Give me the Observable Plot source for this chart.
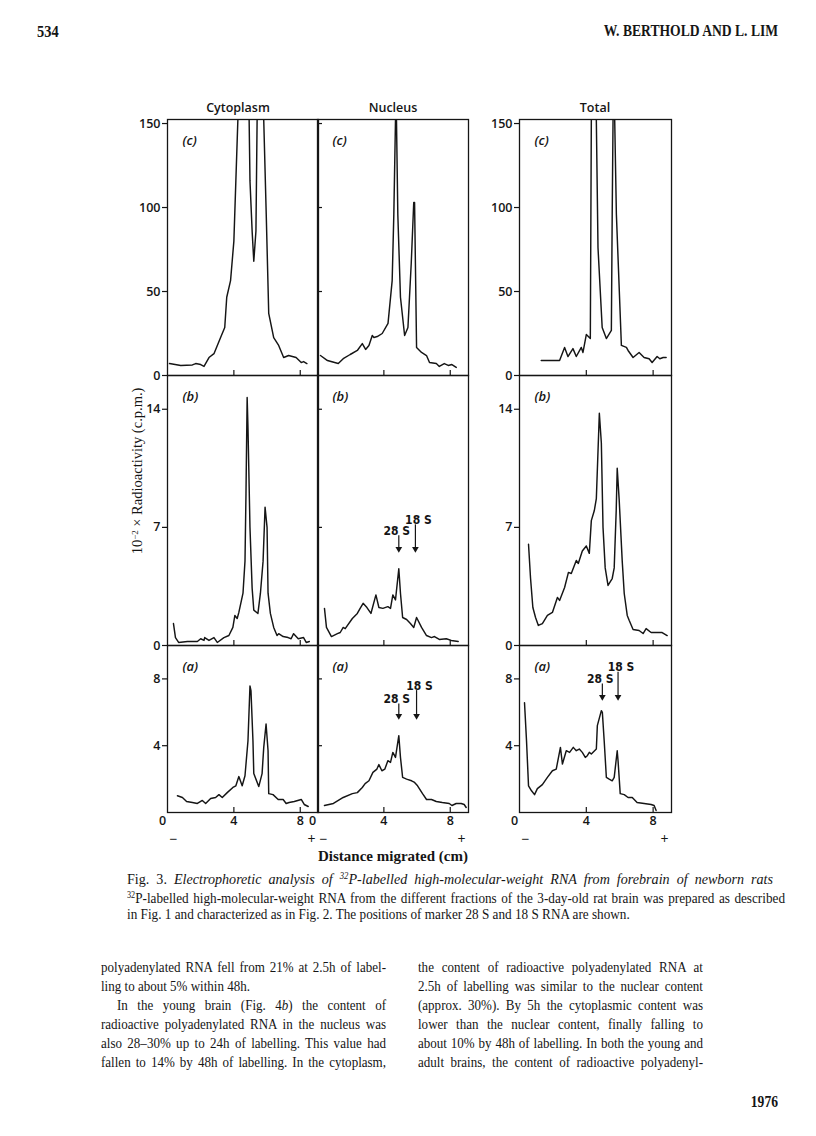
<!DOCTYPE html>
<html><head><meta charset="utf-8">
<script src="https://cdn.jsdelivr.net/npm/d3@7"></script>
<script src="https://cdn.jsdelivr.net/npm/@observablehq/plot@0.6"></script>
<style>
html,body{margin:0;padding:0;background:#fff;}
#page{position:relative;width:816px;height:1136px;overflow:hidden;background:#fff;color:#151515;}
.t{position:absolute;white-space:nowrap;line-height:1;}
.serif{font-family:"Liberation Serif","DejaVu Serif",serif;}
.sans{font-family:"Open Sans","DejaVu Sans",sans-serif;}
.panel{position:absolute;}
.panel svg{overflow:visible;display:block;}
sup{font-size:0.62em;vertical-align:0;position:relative;top:-0.5em;}
</style></head><body><div id="page"></div>
<script>
// ---- Data (distance migrated in cm, 10^-2 x radioactivity in c.p.m.) ----
const xTicks = [4, 8];
const xZeroLabel = [0];
const yTicksC = [0, 50, 100, 150];
const yTicksB = [0, 7, 14];
const yTicksA = [4, 8];
const columns = ["Cytoplasm", "Nucleus", "Total"];
const rowTags = ["(c)", "(b)", "(a)"];

const cytoplasmC = [[0.12,7.1],[0.8,6.0],[1.5,6.3],[1.7,7.1],[2.0,6.5],[2.2,5.4],[2.5,10.7],[2.8,13],[3.2,22.6],[3.45,28.6],[3.57,46.6],[3.8,56.5],[4.0,80],[4.12,116],[4.24,152],[4.55,240],[4.92,152],[4.97,116],[5.1,86],[5.2,68],[5.33,86],[5.4,152],[5.6,220],[5.8,152],[5.95,96],[6.1,37],[6.4,22.6],[6.7,17.9],[7.0,10.7],[7.3,11.9],[7.75,10.7],[8.06,7.7],[8.2,8.3],[8.4,7.1]];
const nucleusC = [[0.18,11.9],[0.6,8.9],[1.25,7.1],[1.55,10],[1.97,12.5],[2.4,14.9],[2.7,19],[2.9,15.5],[3.1,17.9],[3.3,23.8],[3.4,22.6],[3.6,23.2],[3.9,25],[4.25,31],[4.5,56.5],[4.6,96],[4.7,152],[4.76,152],[4.84,96],[5.0,46.6],[5.25,23.8],[5.45,28.6],[5.65,67],[5.8,103],[5.85,103],[5.9,67],[5.97,16.7],[6.27,13.7],[6.57,11.9],[6.75,7.7],[7.16,7.1],[7.34,5.4],[7.64,7.1],[7.88,6],[8.1,6.5],[8.36,4.8]];
const totalC = [[1.3,8.9],[2.4,8.9],[2.7,16.7],[2.9,11.3],[3.2,16],[3.4,11.3],[3.7,16.7],[3.8,13.7],[4.0,24.4],[4.24,22],[4.3,152],[4.45,230],[4.6,152],[4.7,76],[4.95,28.6],[5.2,22],[5.5,26.8],[5.55,96],[5.6,152],[5.65,200],[5.7,152],[5.8,96],[6.1,17.9],[6.4,16.7],[6.5,14.9],[6.8,10.7],[7.16,13.7],[7.46,10.7],[7.76,10],[7.94,7.7],[8.24,11.3],[8.4,10],[8.6,10.7],[8.78,10.7]];

const cytoplasmB = [[0.36,1.3],[0.48,0.47],[0.67,0.18],[1.2,0.24],[1.8,0.24],[2.0,0.4],[2.2,0.3],[2.24,0.47],[2.5,0.3],[2.8,0.47],[3.0,0.18],[3.4,0.47],[3.7,0.59],[3.94,1.07],[4.06,1.78],[4.2,1.6],[4.3,1.96],[4.55,3.1],[4.67,5.0],[4.73,9.0],[4.8,14.7],[4.85,12.9],[4.97,7.0],[5.1,3.4],[5.2,2.1],[5.45,1.9],[5.6,3.1],[5.76,5.0],[5.88,8.2],[6.0,7.0],[6.06,3.1],[6.2,1.9],[6.4,1.07],[6.6,0.59],[6.7,0.7],[6.97,0.53],[7.27,0.47],[7.45,0.4],[7.6,0.7],[7.88,0.4],[8.2,0.47],[8.36,0.18],[8.55,0.24]];
const nucleusB = [[0.42,2.2],[0.54,1.07],[0.84,0.53],[1.2,0.7],[1.37,0.77],[1.55,1.07],[1.67,1.0],[2.1,1.6],[2.4,1.9],[2.57,2.2],[2.75,2.5],[2.98,2.25],[3.22,1.9],[3.52,3.0],[3.7,2.25],[3.94,2.2],[4.24,2.3],[4.4,2.2],[4.54,3.0],[4.7,2.7],[4.9,4.55],[5.0,3.1],[5.13,1.66],[5.37,1.54],[5.6,1.3],[5.8,1.07],[5.97,1.66],[6.27,1.07],[6.57,0.59],[6.87,0.47],[7.05,0.53],[7.34,0.36],[7.76,0.4],[8.06,0.3],[8.48,0.24]];
const totalB = [[0.54,6.0],[0.66,4.0],[0.8,2.25],[0.96,1.66],[1.13,1.19],[1.37,1.3],[1.67,1.78],[1.97,1.96],[2.27,2.85],[2.4,2.67],[2.7,3.44],[2.93,4.33],[3.1,4.27],[3.4,5.04],[3.52,4.86],[3.76,5.6],[4.0,5.9],[4.18,5.46],[4.3,7.4],[4.48,8.0],[4.6,8.7],[4.78,13.76],[4.9,12.0],[5.0,7.0],[5.13,4.6],[5.3,3.56],[5.55,3.97],[5.67,4.6],[5.79,8.0],[5.85,10.5],[5.97,8.6],[6.15,5.0],[6.27,3.08],[6.45,1.78],[6.57,1.48],[6.8,0.95],[7.16,0.89],[7.4,0.71],[7.58,1.0],[7.88,0.77],[8.18,0.77],[8.54,0.77],[8.84,0.59]];

const cytoplasmA = [[0.6,1.0],[0.9,0.9],[1.15,0.66],[1.5,0.6],[1.8,0.54],[2.1,0.72],[2.3,0.54],[2.6,0.84],[2.9,0.9],[3.1,1.07],[3.3,0.9],[3.6,1.19],[3.94,1.5],[4.12,1.6],[4.3,2.15],[4.5,1.6],[4.67,2.2],[4.85,4.3],[4.97,7.58],[5.03,7.3],[5.15,4.3],[5.2,2.33],[5.5,1.55],[5.7,2.33],[5.8,3.9],[5.94,5.3],[6.06,3.7],[6.1,1.13],[6.36,1.07],[6.67,0.78],[6.97,0.78],[7.15,0.54],[7.33,0.6],[7.64,0.66],[8.06,0.78],[8.24,0.48],[8.48,0.36]];
const nucleusA = [[0.42,0.42],[0.96,0.54],[1.55,0.9],[2.1,1.13],[2.4,1.19],[2.7,1.5],[2.87,1.73],[3.1,1.9],[3.34,2.4],[3.58,2.6],[3.7,2.87],[3.88,2.5],[4.06,2.6],[4.24,3.1],[4.4,3.0],[4.54,3.6],[4.7,3.3],[4.9,4.6],[5.0,3.3],[5.13,2.1],[5.37,2.0],[5.67,1.9],[5.85,1.8],[6.03,1.6],[6.33,1.13],[6.57,0.78],[6.87,0.78],[7.16,0.66],[7.52,0.6],[7.94,0.54],[8.1,0.42],[8.36,0.54],[8.66,0.54],[8.84,0.48],[8.96,0.3]];
const totalA = [[0.3,6.57],[0.42,4.3],[0.54,1.6],[0.72,1.3],[0.9,1.07],[1.07,1.43],[1.37,1.67],[1.67,2.1],[1.97,2.5],[2.2,2.6],[2.45,3.9],[2.57,2.9],[2.8,3.7],[3.0,3.6],[3.22,3.9],[3.4,3.7],[3.58,3.8],[3.76,3.6],[3.94,3.3],[4.06,3.4],[4.18,3.6],[4.3,3.5],[4.6,3.8],[4.66,5.2],[4.9,6.1],[4.96,6.0],[5.07,4.3],[5.2,2.1],[5.37,2.0],[5.55,1.9],[5.67,2.1],[5.85,3.7],[5.9,3.1],[6.03,1.13],[6.27,1.07],[6.5,0.9],[6.75,0.9],[7.04,0.6],[7.46,0.54],[7.88,0.48],[8.06,0.42],[8.18,0.12]];

// marker positions (28 S and 18 S RNA)
const markersNucleusB = [{label:"28 S", x:4.9, top:6.5, bottom:5.6},{label:"18 S", x:5.9, top:7.15, bottom:5.6}];
const markersNucleusA = [{label:"28 S", x:4.9, top:6.5, bottom:5.67},{label:"18 S", x:5.97, top:7.3, bottom:5.67}];
const markersTotalA = [{label:"28 S", x:4.96, top:7.7, bottom:6.8},{label:"18 S", x:5.9, top:8.4, bottom:6.8}];

// ---- Layout ----
const page = document.getElementById("page");
const colLayout = [
  {left:167, w:151, labels:true},
  {left:317, w:151, labels:false},
  {left:519, w:152, labels:true}
];
const rowLayout = [
  {top:119, h:256, domain:[0,152.4], ticks:yTicksC},
  {top:375, h:270, domain:[0,16], ticks:yTicksB},
  {top:645, h:167, domain:[0,10], ticks:yTicksA}
];
const INK = "#151515";
const sansFont = "'Open Sans','DejaVu Sans',sans-serif";
const narrowFont = "'Liberation Sans Narrow','DejaVu Sans Condensed','Open Sans',sans-serif";

function panel(ci, ri, data, markers) {
  const col = colLayout[ci], row = rowLayout[ri];
  const bottom = ri === 2;
  const ML = 40, MR = 4, MT = 4, MB = bottom ? 40 : 4;
  const axisStyle = {stroke: INK, fill: INK, strokeWidth:1.2, fontSize: 12.5, fontWeight: 600, label:null};
  const marks = [
    Plot.axisY(col.labels ? row.ticks : row.ticks.filter(d => d > 0), {
      ...axisStyle, anchor:"left", tickSize: col.labels ? 5 : -5, tickPadding: col.labels ? 2 : 0,
      tickFormat: col.labels ? (d => String(d)) : (() => "")
    }),
    Plot.axisX(xTicks, {
      ...axisStyle, anchor:"bottom", tickSize:-5, tickPadding:9,
      tickFormat: bottom ? (d => String(d)) : (() => "")
    }),
    Plot.frame({stroke: INK, strokeWidth:1.3}),
    Plot.line(data, {x: d => d[0], y: d => d[1], stroke: INK, strokeWidth:1.45, clip:true}),
    Plot.text([rowTags[ri]], {frameAnchor:"top-left", dx:15, dy:16, fontStyle:"italic", fontWeight:600, fontSize:13, fill: INK})
  ];
  if (bottom) {
    marks.push(
      Plot.axisX(xZeroLabel, {...axisStyle, anchor:"bottom", tickSize:0, tickPadding:4, dx:-5}),
      Plot.text(["−"], {frameAnchor:"bottom-left", textAnchor:"middle", lineAnchor:"middle", dx:6, dy:27, fontSize:14, fill: INK}),
      Plot.text(["+"], {frameAnchor:"bottom-right", textAnchor:"middle", lineAnchor:"middle", dx:-7, dy:27, fontSize:14, fill: INK})
    );
  }
  if (markers) {
    const lab = {x:"x", y:"top", text:"label", lineAnchor:"bottom", dy:-1, fontSize:12, fontWeight:700, fontFamily: narrowFont, fill: INK};
    marks.push(
      Plot.ruleX(markers, {x:"x", y1:"bottom", y2:"top", stroke: INK, strokeWidth:1.2}),
      Plot.dot(markers, {x:"x", y:"bottom", symbol:"triangle2", rotate:180, r:3.2, fill: INK, stroke:null, dy:-2}),
      Plot.text(markers.filter(m => m.label.startsWith("28")), {...lab, dx:-2}),
      Plot.text(markers.filter(m => m.label.startsWith("18")), {...lab, dx:3})
    );
  }
  const svg = Plot.plot({
    width: ML + col.w + MR, height: MT + row.h + MB,
    marginLeft: ML, marginRight: MR, marginTop: MT, marginBottom: MB,
    x: {domain:[0, 9.1]},
    y: {domain: row.domain},
    style: {fontFamily: sansFont, color: INK, background:"transparent", overflow:"visible"},
    marks
  });
  const div = document.createElement("div");
  div.className = "panel";
  div.style.left = (col.left - ML) + "px";
  div.style.top = (row.top - MT) + "px";
  div.appendChild(svg);
  page.appendChild(div);
}

panel(0, 0, cytoplasmC);
panel(1, 0, nucleusC);
panel(2, 0, totalC);
panel(0, 1, cytoplasmB);
panel(1, 1, nucleusB, markersNucleusB);
panel(2, 1, totalB);
panel(0, 2, cytoplasmA);
panel(1, 2, nucleusA, markersNucleusA);
panel(2, 2, totalA, markersTotalA);

// ---- Text ----
function txt(html, {left, top, width=null, size=15, cls="serif", weight=400, style="normal", justify=false, sx=1, center=false, right=false}) {
  const d = document.createElement("div");
  d.className = "t " + cls;
  d.innerHTML = html;
  d.style.fontSize = size + "px";
  d.style.fontWeight = weight;
  d.style.fontStyle = style;
  d.style.top = top + "px";
  if (center) {
    d.style.left = left + "px";
    d.style.transform = `translateX(-50%) scaleX(${sx})`;
  } else if (right) {
    d.style.right = (816 - left) + "px";
    d.style.transformOrigin = "right top";
    d.style.transform = `scaleX(${sx})`;
  } else {
    d.style.left = left + "px";
    d.style.transformOrigin = "left top";
    d.style.transform = `scaleX(${sx})`;
    if (width) {
      d.style.width = (width / sx) + "px";
      if (justify) { d.style.textAlign = "justify"; d.style.textAlignLast = "justify"; }
    }
  }
  page.appendChild(d);
  return d;
}

// running head
txt("534", {left:37, top:23, size:17, weight:700, sx:0.85});
txt("W. BERTHOLD AND L. LIM", {left:778, top:23, size:16, weight:700, right:true, sx:0.85});

// column titles
columns.forEach((c, i) => {
  const cx = [238, 393, 595][i];
  txt(c, {left:cx, top:102, size:12.5, cls:"sans", weight:600, center:true});
});

// y label (rotated)
const yl = txt("10<sup>−2</sup> × Radioactivity (c.p.m.)", {left:137, top:471, size:14.5});
yl.style.transformOrigin = "center center";
yl.style.transform = "translate(-50%,-50%) rotate(-90deg)";

// x label
txt("Distance migrated (cm)", {left:393, top:849, size:15, weight:600, center:true});

// caption
txt("Fig. 3. <i>Electrophoretic analysis of <sup>32</sup>P-labelled high-molecular-weight RNA from forebrain of newborn rats</i>", {left:127, top:871, width:646, size:15.5, justify:true, sx:0.91});
txt("<sup>32</sup>P-labelled high-molecular-weight RNA from the different fractions of the 3-day-old rat brain was prepared as described", {left:127, top:891, width:658, size:15, justify:true, sx:0.88});
txt("in Fig. 1 and characterized as in Fig. 2. The positions of marker 28 S and 18 S RNA are shown.", {left:127, top:907, size:15, sx:0.88});

// body text
const leftCol = [
  ["polyadenylated RNA fell from 21% at 2.5h of label-", true, 0],
  ["ling to about 5% within 48h.", false, 0],
  ["In the young brain (Fig. 4<i>b</i>) the content of", true, 16],
  ["radioactive polyadenylated RNA in the nucleus was", true, 0],
  ["also 28–30% up to 24h of labelling. This value had", true, 0],
  ["fallen to 14% by 48h of labelling. In the cytoplasm,", true, 0]
];
const rightCol = [
  "the content of radioactive polyadenylated RNA at",
  "2.5h of labelling was similar to the nuclear content",
  "(approx. 30%). By 5h the cytoplasmic content was",
  "lower than the nuclear content, finally falling to",
  "about 10% by 48h of labelling. In both the young and",
  "adult brains, the content of radioactive polyadenyl-"
];
const lineTops = [959, 978, 997, 1016, 1035, 1054];
leftCol.forEach(([s, j, ind], i) => {
  txt(s, {left:101 + ind, top:lineTops[i], width: j ? 285 - ind : null, size:15.5, justify:j, sx:0.84});
});
rightCol.forEach((s, i) => {
  txt(s, {left:418, top:lineTops[i], width:285, size:15.5, justify:true, sx:0.84});
});
txt("1976", {left:778, top:1094, size:16, weight:700, right:true, sx:0.85});
</script></body></html>
